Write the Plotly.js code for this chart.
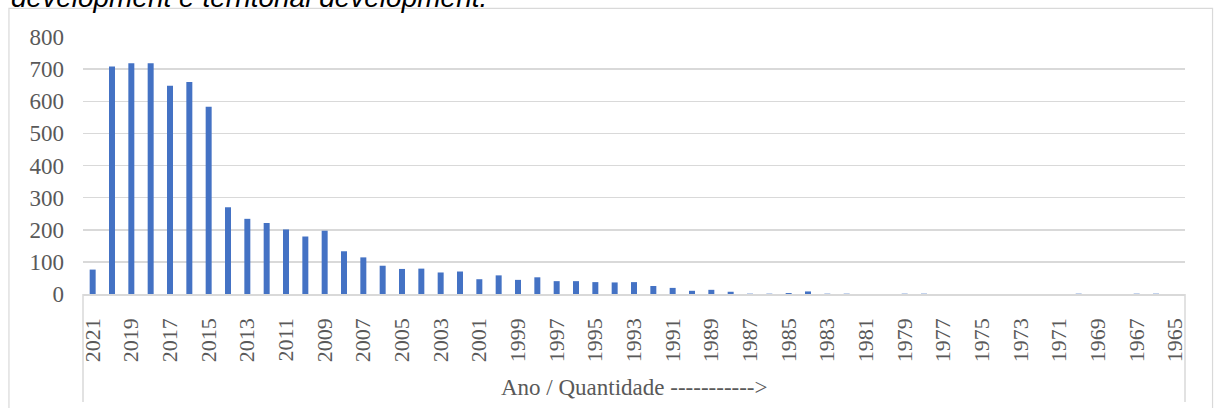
<!DOCTYPE html>
<html>
<head>
<meta charset="utf-8">
<script src="https://cdn.plot.ly/plotly-3.0.1.min.js"></script>
<style>
  html, body { margin: 0; padding: 0; background: #fff; }
  #chart { width: 1214px; height: 408px; }
</style>
</head>
<body>
<div id="chart"></div>
<script>
// years, newest first (as in the source chart)
const years = ['2021','2020','2019','2018','2017','2016','2015','2014','2013','2012',
  '2011','2010','2009','2008','2007','2006','2005','2004','2003','2002',
  '2001','2000','1999','1998','1997','1996','1995','1994','1993','1992',
  '1991','1990','1989','1988','1987','1986','1985','1984','1983','1982',
  '1981','1980','1979','1978','1977','1976','1975','1974','1973','1972',
  '1971','1970','1969','1968','1967','1966','1965'];

const counts = [76, 708, 718, 718, 648, 660, 583, 270, 234, 221,
  201, 179, 197, 133, 114, 88, 78, 79, 67, 70,
  46, 58, 44, 52, 40, 40, 37, 36, 37, 25,
  19, 10, 13, 7, 1, 1, 3, 8, 1, 1,
  0, 0, 1, 1, 0, 0, 0, 0, 0, 0,
  0, 1, 0, 0, 1, 1, 0];

// every other year gets a label
const tickYears = years.filter((y, i) => i % 2 === 0);
const yTicks = [0, 100, 200, 300, 400, 500, 600, 700, 800];

const titleText = 'development e territorial development.';
const axisText = 'Ano / Quantidade ----------->';

const grey = '#d9d9d9';
const labelColor = '#595959';
const serif = 'Liberation Serif, Times New Roman, serif';

var data = [{
    type: 'bar',
    x: years,
    y: counts,
    marker: { color: '#4472C4' },
    hoverinfo: 'x+y'
}];

var layout = {
    width: 1214,
    height: 408,
    margin: { l: 83, r: 29, t: 37, b: 114 },
    paper_bgcolor: '#fff',
    plot_bgcolor: '#fff',
    showlegend: false,
    bargap: 0.69,
    xaxis: {
        type: 'category',
        tickmode: 'array',
        tickvals: tickYears,
        ticktext: tickYears,
        tickangle: -90,
        ticks: '',
        ticklabelstandoff: 14,
        tickfont: { family: serif, size: 22, color: labelColor },
        showgrid: false,
        showline: true,
        linecolor: grey,
        linewidth: 1.5
    },
    yaxis: {
        range: [0, 800],
        tickmode: 'array',
        tickvals: yTicks,
        ticks: '',
        ticklabelstandoff: 18,
        tickfont: { family: serif, size: 23, color: labelColor },
        showgrid: true,
        gridcolor: grey,
        gridwidth: 1.5,
        zeroline: false,
        showline: false
    },
    shapes: [
        // chart frame
        { type: 'rect', xref: 'paper', yref: 'paper', x0: -0.0672, x1: 1.025, y0: -0.49, y1: 1.111,
          line: { color: grey, width: 1.2 }, fillcolor: 'rgba(0,0,0,0)', layer: 'below' },
        // category label box sides
        { type: 'line', xref: 'paper', yref: 'paper', x0: 0, x1: 0, y0: 0, y1: -0.42,
          line: { color: grey, width: 1.5 } },
        { type: 'line', xref: 'paper', yref: 'paper', x0: 1, x1: 1, y0: 0, y1: -0.42,
          line: { color: grey, width: 1.5 } }
    ],
    annotations: [
        { text: '<i>' + titleText + '</i>', xref: 'paper', yref: 'paper', x: -0.0662, y: 1.1556,
          xanchor: 'left', yanchor: 'middle', showarrow: false, borderpad: 0,
          font: { family: 'Liberation Sans, Arial, sans-serif', size: 28, color: '#000' } },
        { text: axisText, xref: 'paper', yref: 'paper', x: 0.5, y: -0.362,
          xanchor: 'center', yanchor: 'middle', showarrow: false,
          font: { family: serif, size: 23, color: labelColor } }
    ]
};

Plotly.newPlot('chart', data, layout, { displayModeBar: false, staticPlot: true });
</script>
</body>
</html>
